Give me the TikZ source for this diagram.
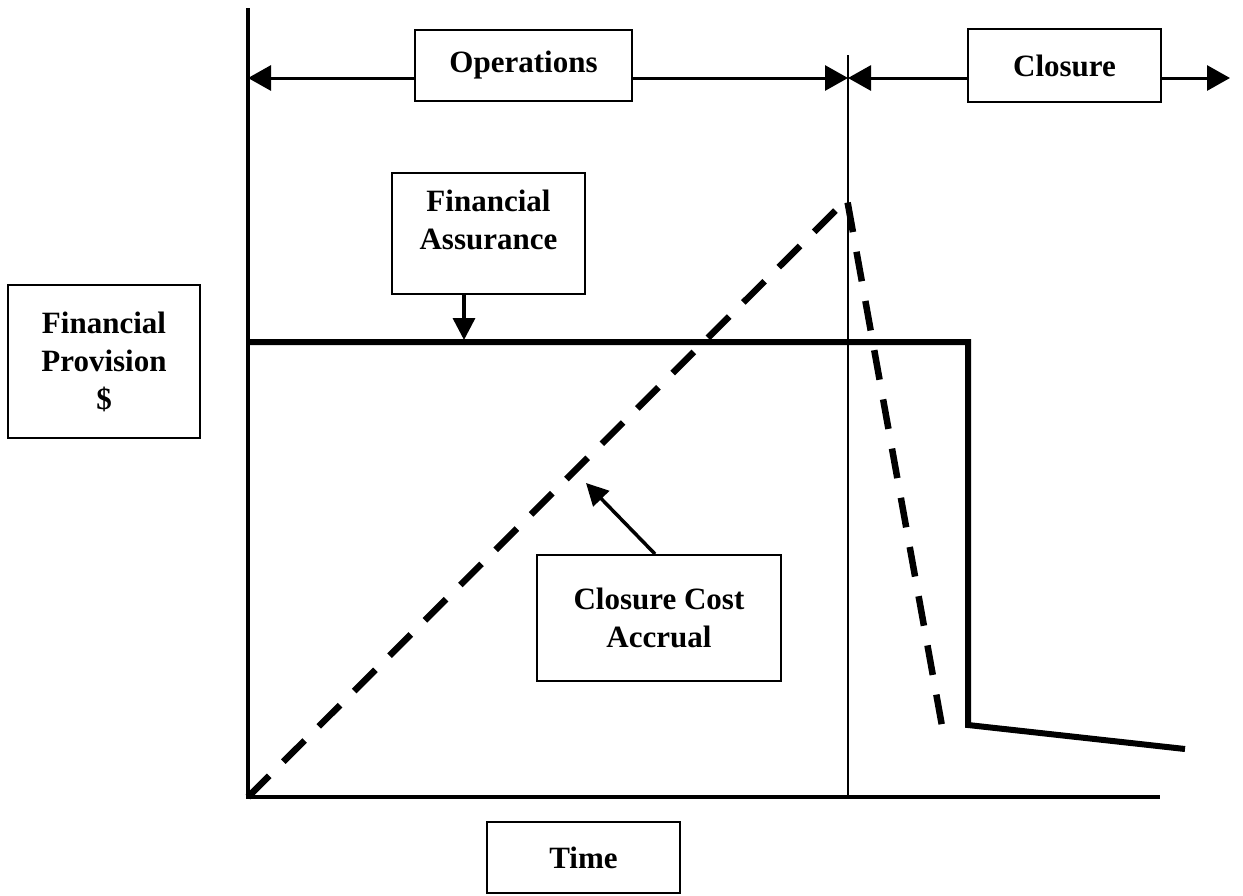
\documentclass[tikz,border=0pt]{standalone}
\usepackage{fontspec}
\setmainfont{Liberation Serif}
\usepackage{tikz}
\usetikzlibrary{arrows.meta}
\tikzset{
    label-box/.style = {draw=black, fill=white, line width=2pt, rectangle, align=center, inner sep=0pt, font=\fontsize{31}{38}\selectfont\bfseries},
    axis-line/.style = {draw=black, line width=3.5pt},
    span-arrow/.style = {draw=black, line width=3pt, -{Triangle[length=23pt,width=25pt]}},
    pointer/.style = {draw=black, line width=3.5pt, -{Triangle[length=22pt,width=22pt]}},
}

\begin{document}
\begin{tikzpicture}[x=1pt,y=-1pt]
\useasboundingbox (0,0) rectangle (1243,895);
% axes
\coordinate (origin) at (248,797);
\coordinate (y-top) at (248,8);
\coordinate (x-end) at (1160,797);
\coordinate (div-top) at (848,55);
\coordinate (div-bot) at (848,797);
\draw [axis-line] (y-top) -- (origin) -- (x-end);
\draw [draw=black, line width=2.5pt] (div-top) -- (div-bot);

% phase labels
\node [label-box, minimum width=217pt, minimum height=71pt] (ops-box) at (523.5,65.5) {Operations};
\node [label-box, minimum width=193pt, minimum height=73pt] (closure-box) at (1064.5,65.5) {Closure};
\coordinate (ops-left) at (248,78);
\coordinate (ops-right) at (848,78);
\coordinate (closure-end) at (1230,78);
\draw [span-arrow] (ops-box.west |- ops-left) -- (ops-left);
\draw [span-arrow] (ops-box.east |- ops-right) -- (ops-right);
\draw [span-arrow] (closure-box.west |- ops-right) -- (ops-right);
\draw [span-arrow] (closure-box.east |- closure-end) -- (closure-end);

% curves
\coordinate (fa-start) at (248,342);
\coordinate (fa-corner) at (968,342);
\coordinate (fa-drop) at (968,725);
\coordinate (fa-end) at (1185,749);
\draw [draw=black, line width=6pt] (fa-start) -- (fa-corner) -- (fa-drop) -- (fa-end);
\coordinate (accrual-peak) at (847,199);
\coordinate (accrual-dip) at (942,726);
\draw [draw=black, line width=6.5pt, dash pattern=on 30pt off 20pt] (origin) -- (accrual-peak) -- (accrual-dip);

% labels
\node [label-box, minimum width=193pt, minimum height=121pt] (fa-box) at (488.5,233.5) {Financial\\Assurance\\[-10pt]};
\coordinate (fa-tip) at (464,340);
\draw [pointer] (fa-box.south -| fa-tip) -- (fa-tip);

\node [label-box, minimum width=244pt, minimum height=126pt] (cca-box) at (659,618) {Closure Cost\\Accrual};
\coordinate (cca-tip) at (586,483);
\draw [pointer] ([xshift=-4pt]cca-box.north) -- (cca-tip);

\node [label-box, minimum width=192pt, minimum height=153pt] (fp-box) at (104,361.5) {Financial\\Provision\\\$};
\node [label-box, minimum width=193pt, minimum height=71pt] (time-box) at (583.5,857.5) {Time};
\end{tikzpicture}
\end{document}
